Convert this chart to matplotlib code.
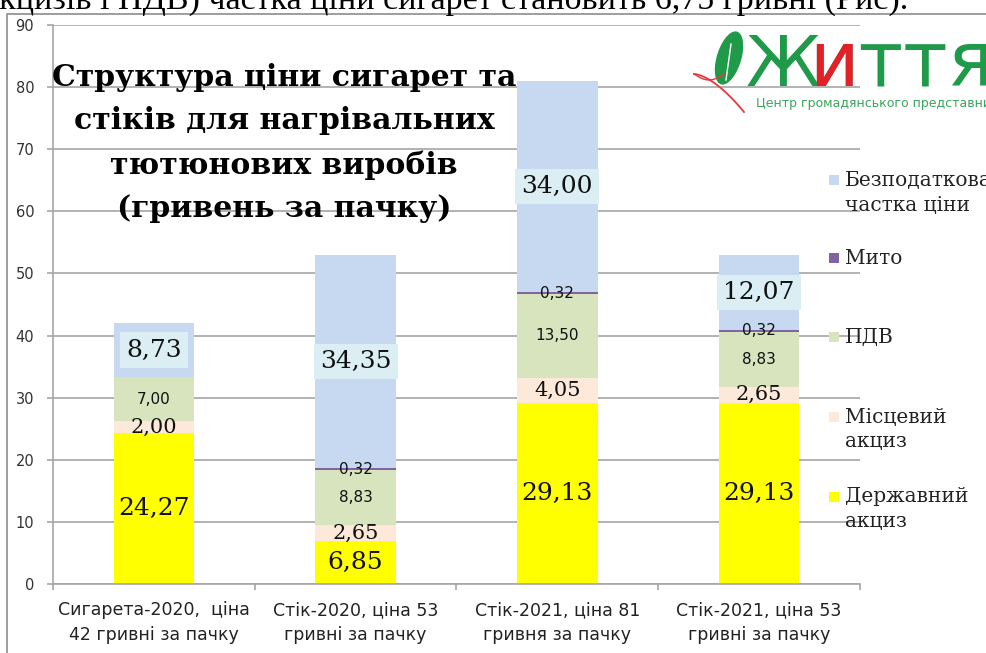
import matplotlib
matplotlib.use("Agg")
import matplotlib.pyplot as plt
from matplotlib.patches import Rectangle, Ellipse
import numpy as np

W, H = 987, 653

categories = ["Сигарета-2020,  ціна\n42 гривні за пачку",
              "Стік-2020, ціна 53\nгривні за пачку",
              "Стік-2021, ціна 81\nгривня за пачку",
              "Стік-2021, ціна 53\nгривні за пачку"]
derzh_akcyz = [24.27, 6.85, 29.13, 29.13]
misc_akcyz = [2.00, 2.65, 4.05, 2.65]
pdv = [7.00, 8.83, 13.50, 8.83]
myto = [0.0, 0.32, 0.32, 0.32]
bezpodat = [8.73, 34.35, 34.00, 12.07]
yticks = [0, 10, 20, 30, 40, 50, 60, 70, 80, 90]

series = [
    ("Державний\nакциз", derzh_akcyz, "#FFFF00"),
    ("Місцевий\nакциз", misc_akcyz, "#FDE9D9"),
    ("ПДВ", pdv, "#D7E4BD"),
    ("Мито", myto, "#8064A2"),
    ("Безподаткова\nчастка ціни", bezpodat, "#C6D9F1"),
]

def fx(x):
    return np.asarray(x) / W

def fy(y):
    return 1 - np.asarray(y) / H

fig = plt.figure(figsize=(W / 100, H / 100), dpi=100)
fig.patch.set_facecolor("white")

# outer frame
fig.add_artist(plt.Line2D(fx([7, 7, 1000]), fy([700, 14, 14]), transform=fig.transFigure,
                          color="#8C8C8C", linewidth=1.2))

# cut-off text at top
fig.text(fx(-16), fy(9), "акцизів і ПДВ) частка ціни сигарет становить 6,75 гривні (Рис).",
         fontsize=24.5, family="Liberation Serif", color="black", va="baseline", ha="left")

ax = fig.add_axes([fx(53), fy(584), fx(860) - fx(53), fy(25) - fy(584)])
ax.set_facecolor("none")
x = np.arange(len(categories))
bw = 0.40

bottom = np.zeros(len(categories))
for name, vals, col in series:
    vals = np.array(vals)
    ax.bar(x, vals, bw, bottom=bottom, color=col, edgecolor="none", zorder=2)
    bottom = bottom + vals

ax.set_xlim(-0.5, 3.5)
ax.set_ylim(0, 90)
ax.set_yticks(yticks)
ax.set_yticklabels([str(v) for v in yticks], fontsize=10.5, family="DejaVu Sans", color="#333333")
ax.yaxis.grid(True, color="#A6A6A6", linewidth=1.2, zorder=0)
ax.set_axisbelow(True)
for s in ["top", "right"]:
    ax.spines[s].set_visible(False)
for s in ["left", "bottom"]:
    ax.spines[s].set_color("#A6A6A6")
    ax.spines[s].set_linewidth(1.2)
ax.tick_params(axis="y", length=4.5, color="#A6A6A6", pad=9, width=1.2)

ax.set_xticks([-0.5, 0.5, 1.5, 2.5, 3.5])
ax.set_xticklabels([])
ax.tick_params(axis="x", length=4.5, color="#A6A6A6", width=1.2)
for i, c in enumerate(categories):
    ax.text(i, -2.8, c, ha="center", va="top", fontsize=12.5,
            family=["Liberation Sans Narrow", "DejaVu Sans Condensed", "DejaVu Sans"],
            color="#222222", linespacing=1.45, clip_on=False)

# value labels
def fmt(v):
    return f"{v:.2f}".replace(".", ",")

big_serif = dict(family="DejaVu Serif", fontsize=18, color="#111111")
mid_serif = dict(family="DejaVu Serif", fontsize=15, color="#111111")
small_sans = dict(family="DejaVu Sans", fontsize=11, color="#111111")

bottom = np.zeros(len(categories))
for si, (name, vals, col) in enumerate(series):
    for i, v in enumerate(vals):
        if v <= 0:
            continue
        yc = bottom[i] + v / 2
        if si == 0:
            bbox = dict(boxstyle="square,pad=0.15", facecolor="#FFFF00", edgecolor="none") if i == 2 else None
            ax.text(i, yc, fmt(v), ha="center", va="center", bbox=bbox, zorder=4, **big_serif)
        elif si == 1:
            ax.text(i, yc, fmt(v), ha="center", va="center", zorder=4, **mid_serif)
        elif si in (2, 3):
            ax.text(i, yc, fmt(v), ha="center", va="center", zorder=4, **small_sans)
        else:
            ax.text(i, yc, fmt(v), ha="center", va="center", zorder=4,
                    bbox=dict(boxstyle="square,pad=0.25", facecolor="#DAEEF3", edgecolor="none"),
                    **big_serif)
    bottom = bottom + np.array(vals)

# legend (manual)
leg_y = {"Безподаткова\nчастка ціни": 180, "Мито": 258, "ПДВ": 337,
         "Місцевий\nакциз": 417, "Державний\nакциз": 497}
for name, vals, col in series:
    yy = leg_y[name]
    fig.add_artist(Rectangle((fx(829), fy(yy + 5)), 10 / W, 10 / H,
                             transform=fig.transFigure, facecolor=col, edgecolor="none", zorder=5))
    for k, line in enumerate(name.split("\n")):
        fig.text(fx(845), fy(yy + 25 * k), line, ha="left", va="center", fontsize=14.5,
                 family="DejaVu Serif", color="#222222")

# title
fig.text(fx(284), fy(143), "Структура ціни сигарет та\nстіків для нагрівальних\nтютюнових виробів\n(гривень за пачку)",
         ha="center", va="center", fontsize=21.5, fontweight="bold", family="DejaVu Serif",
         linespacing=1.62, color="black")

# logo
leaf = Ellipse((fx(729), fy(58)), 25 / W, 54 / H, angle=-10, transform=fig.transFigure,
               facecolor="#1F9A48", edgecolor="none", zorder=6)
fig.add_artist(leaf)
fig.add_artist(plt.Line2D(fx([726, 731]), fy([80, 44]), transform=fig.transFigure,
                          color="white", linewidth=1.0, zorder=7))
t = np.linspace(0, 1, 40)
sx = 694 + 50 * t
sy = 74 + 38 * t ** 1.6
fig.add_artist(plt.Line2D(fx(sx), fy(sy), transform=fig.transFigure, color="#E8383D",
                          linewidth=1.3, zorder=6))
sx2 = 694 + 30 * t
sy2 = 74 + 6 * np.sin(np.pi * t)
fig.add_artist(plt.Line2D(fx(sx2), fy(sy2), transform=fig.transFigure, color="#E8383D",
                          linewidth=1.0, zorder=6))
fig.text(fx(746), fy(86), "Ж", fontsize=50, family="DejaVu Sans", color="#1F9A48",
         ha="left", va="baseline", zorder=6)
fig.text(fx(809), fy(86), "иття", fontsize=55, family="DejaVu Sans", color="#1F9A48",
         ha="left", va="baseline", zorder=6)
fig.text(fx(809), fy(86), "и", fontsize=55, family="DejaVu Sans", color="#E32028",
         ha="left", va="baseline", zorder=7)
fig.text(fx(756), fy(107), "Центр громадянського представництва", fontsize=9,
         family="DejaVu Sans", color="#3BA55C", ha="left", va="baseline", zorder=6)

fig.savefig("out.png", dpi=100, facecolor="white")
